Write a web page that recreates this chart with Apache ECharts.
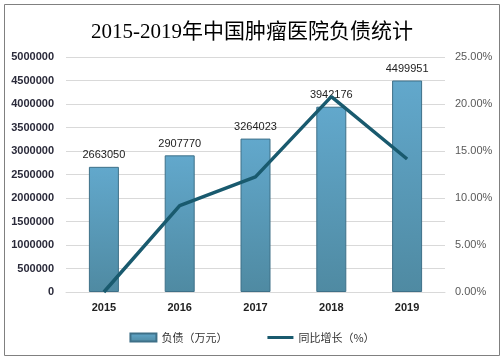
<!DOCTYPE html>
<html><head><meta charset="utf-8">
<script src="https://cdn.jsdelivr.net/npm/echarts@6/dist/echarts.min.js"></script>
<style>html,body{margin:0;padding:0;background:#fff}#c{width:504px;height:360px}</style>
</head><body><div id="c"></div>
<script>
const years = ['2015','2016','2017','2018','2019'];
const debt = [2663050, 2907770, 3264023, 3942176, 4499951];
const growth = [0, 0.0919, 0.1225, 0.2078, 0.1415];
const chart = echarts.init(document.getElementById('c'));
chart.setOption({
  animation: false,
  backgroundColor: '#fff',
  title: {
    text: '2015-2019年中国肿瘤医院负债统计',
    left: 'center', top: 17,
    textStyle: {fontFamily: 'Liberation Serif, Noto Sans CJK SC', fontSize: 21, fontWeight: 'normal', color: '#000'}
  },
  graphic: [{type:'rect', shape:{x:4.5,y:4.5,width:495,height:351}, style:{fill:'none', stroke:'#808080', lineWidth:1}, silent:true}],
  legend: {
    bottom: 12, left: 'center', itemGap: 40, itemWidth: 26, itemHeight: 8,
    textStyle: {fontSize: 11, color: '#333', fontFamily: 'Noto Sans CJK SC'},
    data: [{name:'负债（万元）', icon:'rect'},
           {name:'同比增长（%）', icon:'path://M0,2.4H26V5.6H0ZM0,0H0.01V0.01H0ZM25.99,7.99H26V8H25.99Z', itemStyle:{color:'#195a6e', borderWidth:0}}]
  },
  grid: {left: 66, right: 59, top: 57, bottom: 68},
  xAxis: {
    type: 'category', data: years,
    axisLine: {lineStyle: {color: '#d9d9d9'}}, axisTick: {show: false},
    axisLabel: {fontWeight: 'bold', color: '#222', fontSize: 11, margin: 10}
  },
  yAxis: [{
    type: 'value', min: 0, max: 5000000, interval: 500000,
    axisLine: {show: false}, axisTick: {show: false},
    splitLine: {lineStyle: {color: '#d9d9d9'}},
    axisLabel: {fontWeight: 'bold', color: '#2a2a3a', fontSize: 11, margin: 12, formatter: v => String(v)}
  }, {
    type: 'value', min: 0, max: 0.25, interval: 0.05,
    axisLine: {show: false}, axisTick: {show: false}, splitLine: {show: false},
    axisLabel: {color: '#595959', fontSize: 11, margin: 10, formatter: v => (v*100).toFixed(2) + '%'}
  }],
  series: [{
    name: '负债（万元）', type: 'bar', data: debt, barWidth: 30,
    itemStyle: {
      color: new echarts.graphic.LinearGradient(0,0,0,1,[{offset:0,color:'#62a8cc'},{offset:1,color:'#4f8aa2'}]),
      borderColor: '#3e7088', borderWidth: 1
    },
    label: {show: true, position: 'top', color: '#222', fontSize: 11, distance: 6}
  }, {
    name: '同比增长（%）', type: 'line', yAxisIndex: 1, data: growth,
    symbol: 'none', lineStyle: {color: '#195a6e', width: 3.5}, itemStyle: {color: '#195a6e'}
  }]
});
</script></body></html>
